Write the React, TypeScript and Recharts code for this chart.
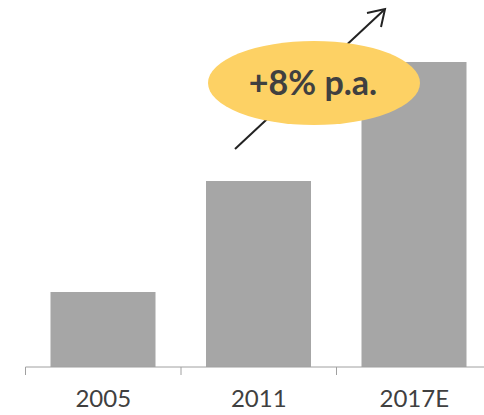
import { Bar, BarChart, XAxis, YAxis } from "recharts"

const YEARS = ["2005", "2011", "2017E"]
const VOLUME = [0.75, 1.86, 3.05]
const Y_MAX = 3.67

const BAR_COLOR = "#a6a6a6"
const AXIS_COLOR = "#a0a0a0"
const TEXT_COLOR = "#404040"
const BUBBLE_COLOR = "#fdd164"
const FONT = "Lato, 'Open Sans', sans-serif"

const data = YEARS.map((year, i) => ({ year, value: VOLUME[i] }))

const renderTick = ({ x, y, payload }: any) => {
    const half = 155.5 / 2
    return (
        <g>
            <line x1={x - half} y1={y - 8} x2={x - half} y2={y} stroke={AXIS_COLOR} strokeWidth={1} />
            <text x={x} y={y + 32} textAnchor="middle" fill={TEXT_COLOR} fontSize={24} fontFamily={FONT}>
                {payload.value}
            </text>
        </g>
    )
}

// growth arrow + yellow bubble, laid over the chart
const GrowthNote = () => (
    <svg width={484} height={415} style={{ position: "absolute", left: 0, top: 0, pointerEvents: "none" }}>
        <line x1={235} y1={149} x2={384} y2={10} stroke="#222" strokeWidth={2} />
        <polyline points="367,13 385,9 381,27" fill="none" stroke="#222" strokeWidth={2} />
        <ellipse cx={314} cy={83} rx={106} ry={42} fill={BUBBLE_COLOR} />
        <text x={313} y={95} textAnchor="middle" fill={TEXT_COLOR} fontSize={34} fontWeight="bold" fontFamily={FONT}>
            +8% p.a.
        </text>
    </svg>
)

export default function App() {
    return (
        <div style={{ position: "absolute", left: 0, top: 0, width: 484, height: 415, overflow: "hidden", background: "#fff" }}>
            <BarChart width={492} height={415} data={data} margin={{ top: 0, right: 0, bottom: 0, left: 25.5 }}>
                <XAxis
                    dataKey="year"
                    height={48}
                    axisLine={{ stroke: AXIS_COLOR }}
                    tickLine={false}
                    tick={renderTick}
                    interval={0}
                />
                <YAxis hide domain={[0, Y_MAX]} />
                <Bar dataKey="value" fill={BAR_COLOR} barSize={105} isAnimationActive={false} />
            </BarChart>
            <GrowthNote />
        </div>
    )
}
